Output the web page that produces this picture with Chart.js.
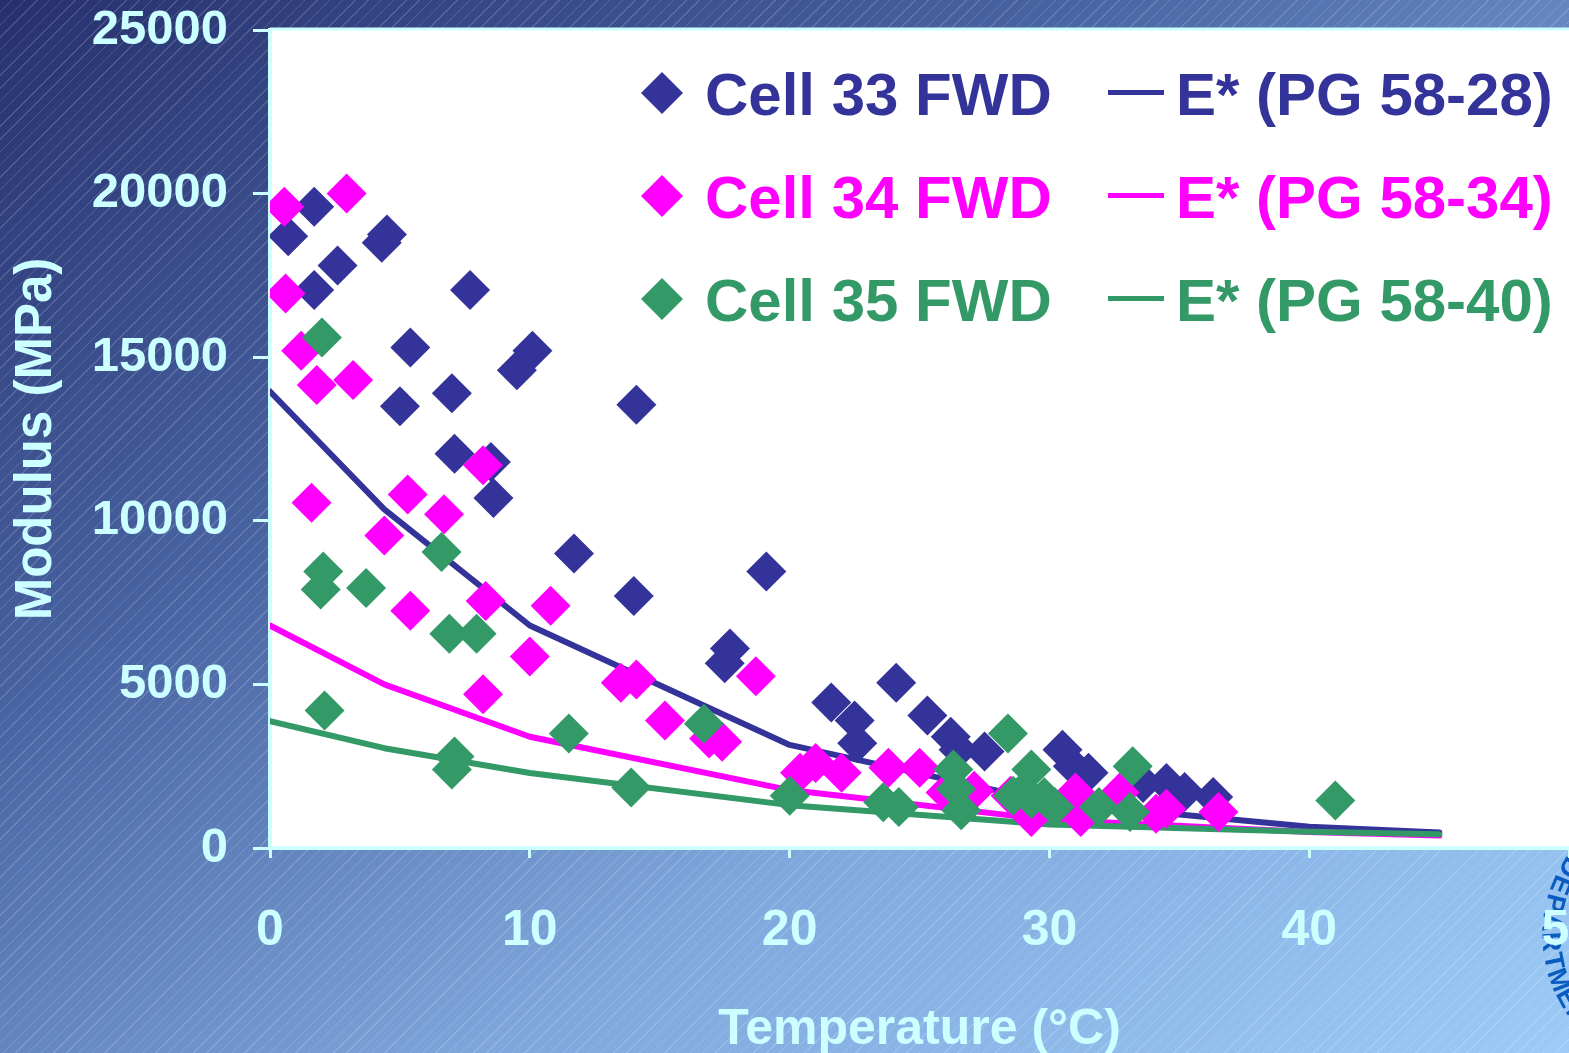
<!DOCTYPE html>
<html>
<head>
<meta charset="utf-8">
<script src="https://cdn.jsdelivr.net/npm/chart.js@4/dist/chart.umd.min.js"></script>
<style>
  html, body { margin: 0; padding: 0; overflow: hidden; }
  body {
    width: 1569px; height: 1053px;
    background:
      repeating-linear-gradient(135deg, rgba(255,255,255,0) 0 8px, rgba(255,255,255,0.16) 8px 9px),
      linear-gradient(to bottom right, #27306e 0%, #4a65a3 35%, #7ea6db 65%, #9ccbf7 100%);
  }
  #wrap { position: absolute; left: 0; top: 0; width: 1640px; height: 1053px; }
</style>
</head>
<body>
<div id="wrap"><canvas id="chart"></canvas></div>
<script>
// FWD back-calculated moduli, per cell
const cell33Temp = [0.7, 1.7, 1.7, 2.6, 4.3, 4.5, 5.0, 5.4, 7.0, 7.1, 7.7, 8.5, 8.6, 9.5, 10.1, 11.7, 14.0, 14.1, 17.5, 17.7, 19.1, 21.6, 22.5, 22.6, 24.1, 25.3, 26.2, 26.5, 27.5, 30.5, 30.9, 31.5, 33.6, 34.5, 35.2, 36.3];
const cell33Mod  = [18700, 19600, 17050, 17800, 18500, 18750, 13500, 15300, 13900, 12050, 17050, 11800, 10700, 14600, 15200, 9000, 7700, 13550, 5650, 6100, 8450, 4450, 3900, 3200, 5050, 4050, 3400, 3000, 2950, 3000, 2500, 2300, 1990, 1990, 1710, 1560];

const cell34Temp = [0.55, 2.95, 0.6, 1.2, 1.8, 3.2, 1.6, 4.4, 5.3, 6.7, 5.4, 8.2, 8.3, 8.2, 10.0, 10.8, 13.5, 14.1, 15.2, 16.9, 17.4, 18.7, 20.4, 21.0, 22.0, 23.8, 25.0, 26.0, 27.1, 28.5, 29.3, 31.0, 31.2, 32.7, 34.1, 34.5, 36.5];
const cell34Mod  = [19600, 20000, 16950, 15200, 14150, 14300, 10550, 9550, 10800, 10200, 7250, 11700, 7550, 4700, 5850, 7400, 5050, 5150, 3900, 3350, 3250, 5250, 2300, 2600, 2300, 2450, 2450, 1700, 1750, 1600, 950, 1700, 950, 1700, 1050, 1200, 1100];

const cell35Temp = [2.0, 2.05, 1.95, 3.7, 6.6, 6.9, 7.95, 2.1, 7.1, 7.0, 11.5, 13.9, 16.7, 20.0, 23.6, 24.2, 26.3, 26.4, 26.6, 28.4, 28.6, 29.0, 29.3, 29.3, 29.8, 30.2, 31.9, 33.2, 33.1, 41.0];
const cell35Mod  = [15600, 8450, 7900, 7950, 9050, 6550, 6550, 4200, 2800, 2400, 3500, 1850, 3800, 1600, 1400, 1250, 2400, 1800, 1150, 3500, 1600, 1750, 2400, 1500, 1550, 1250, 1250, 2500, 1100, 1450];

// dynamic modulus E* curves
const eTemp  = [0, 4.4, 10, 20, 30, 40, 45];
const pg5828 = [13950, 10350, 6800, 3150, 1400, 650, 470];
const pg5834 = [6800, 5000, 3400, 1770, 860, 490, 380];
const pg5840 = [3880, 3050, 2290, 1310, 720, 500, 420];

const xTicks = [0, 10, 20, 30, 40, 50];
const yTicks = [0, 5000, 10000, 15000, 20000, 25000];

const NAVY = "#333399", PINK = "#ff00ff", GREEN = "#339966", PALE = "#ccffff";
const FONT = '"Liberation Sans", Arial, sans-serif';

const pts = (xs, ys) => xs.map((x, i) => ({ x, y: ys[i] }));

function markerSet(label, xs, ys, color, order) {
  return {
    label, data: pts(xs, ys), order,
    pointStyle: "rectRot", pointRadius: 20, pointHoverRadius: 20,
    pointBackgroundColor: color, pointBorderWidth: 0, showLine: false
  };
}
function curveSet(label, ys, color) {
  return {
    label, data: pts(eTemp, ys), order: 5,
    showLine: true, borderColor: color, borderWidth: 6, pointRadius: 0,
    borderCapStyle: "round", borderJoinStyle: "round"
  };
}

const datasets = [
  markerSet("Cell 35 FWD", cell35Temp, cell35Mod, GREEN, 0),
  markerSet("Cell 34 FWD", cell34Temp, cell34Mod, PINK, 1),
  markerSet("Cell 33 FWD", cell33Temp, cell33Mod, NAVY, 2),
  curveSet("E* (PG 58-40)", pg5840, GREEN),
  curveSet("E* (PG 58-34)", pg5834, PINK),
  curveSet("E* (PG 58-28)", pg5828, NAVY)
];

// legend rows, top to bottom
const legendRows = [
  ["Cell 33 FWD", "E* (PG 58-28)", NAVY],
  ["Cell 34 FWD", "E* (PG 58-34)", PINK],
  ["Cell 35 FWD", "E* (PG 58-40)", GREEN]
];

// white plot area + clipped seal lettering (under the axis labels)
const plotBg = {
  id: "plotBg",
  beforeDraw(chart) {
    const { ctx, chartArea: a } = chart;
    ctx.save();
    ctx.fillStyle = "#fff";
    ctx.fillRect(a.left, a.top, a.right - a.left, a.bottom - a.top);
    ctx.strokeStyle = PALE;
    ctx.lineWidth = 3;
    ctx.beginPath();
    ctx.moveTo(a.left, a.top - 1);
    ctx.lineTo(a.right + 50, a.top - 1);
    ctx.stroke();

    ctx.fillStyle = "#0b5cc0";
    ctx.font = "900 27px " + FONT;
    ctx.textAlign = "center";
    ctx.textBaseline = "middle";
    "DEPARTMENT".split("").forEach((ch, i) => {
      const th = (211 - i * 8.5) * Math.PI / 180;
      ctx.save();
      ctx.translate(1682 + 132 * Math.cos(th), 935 + 132 * Math.sin(th));
      ctx.rotate(th - Math.PI / 2);
      ctx.fillText(ch, 0, 0);
      ctx.restore();
    });
    ctx.restore();
  }
};

const legendDraw = {
  id: "legendDraw",
  afterDraw(chart) {
    const ctx = chart.ctx;
    ctx.save();
    ctx.font = "bold 60px " + FONT;
    ctx.textBaseline = "alphabetic";
    legendRows.forEach((r, i) => {
      const cy = 93 + i * 103;
      ctx.fillStyle = r[2];
      ctx.beginPath();
      ctx.moveTo(662, cy - 21); ctx.lineTo(683, cy); ctx.lineTo(662, cy + 21); ctx.lineTo(641, cy);
      ctx.closePath();
      ctx.fill();
      ctx.fillText(r[0], 705, cy + 22);
      ctx.fillRect(1108, cy - 3, 56, 5);
      ctx.fillText(r[1], 1176, cy + 22);
    });
    ctx.restore();
  }
};

new Chart(document.getElementById("chart"), {
  type: "scatter",
  data: { datasets },
  plugins: [plotBg, legendDraw],
  options: {
    responsive: true,
    maintainAspectRatio: false,
    animation: false,
    layout: { padding: { left: 0, top: 0, right: 33, bottom: 0 } },
    plugins: { legend: { display: false }, tooltip: { enabled: false } },
    scales: {
      x: {
        type: "linear", min: 0, max: 50,
        afterBuildTicks: s => { s.ticks = xTicks.map(v => ({ value: v })); },
        afterFit: s => { s.height = 205; },
        ticks: { color: PALE, padding: 43, maxRotation: 0, autoSkip: false, font: { family: FONT, size: 50, weight: "bold" } },
        grid: { drawOnChartArea: false, tickLength: 10, color: PALE, lineWidth: 3 },
        border: { color: PALE, width: 4 },
        title: { display: true, text: "Temperature (°C)", color: PALE, padding: { top: 0, bottom: -7 },
                 font: { family: FONT, size: 50, weight: "bold" } }
      },
      y: {
        type: "linear", min: 0, max: 25000,
        afterBuildTicks: s => { s.ticks = yTicks.map(v => ({ value: v })); },
        afterFit: s => { s.width = 270; s.paddingTop = 30; },
        ticks: { color: PALE, padding: 25, callback: v => String(v), font: { family: FONT, size: 49, weight: "bold" } },
        grid: { drawOnChartArea: false, tickLength: 17, color: PALE, lineWidth: 3 },
        border: { color: PALE, width: 4 },
        title: { display: true, text: "Modulus (MPa)", color: PALE, padding: { top: 6, bottom: 0 },
                 font: { family: FONT, size: 51, weight: "bold" } }
      }
    }
  }
});
</script>
</body>
</html>
